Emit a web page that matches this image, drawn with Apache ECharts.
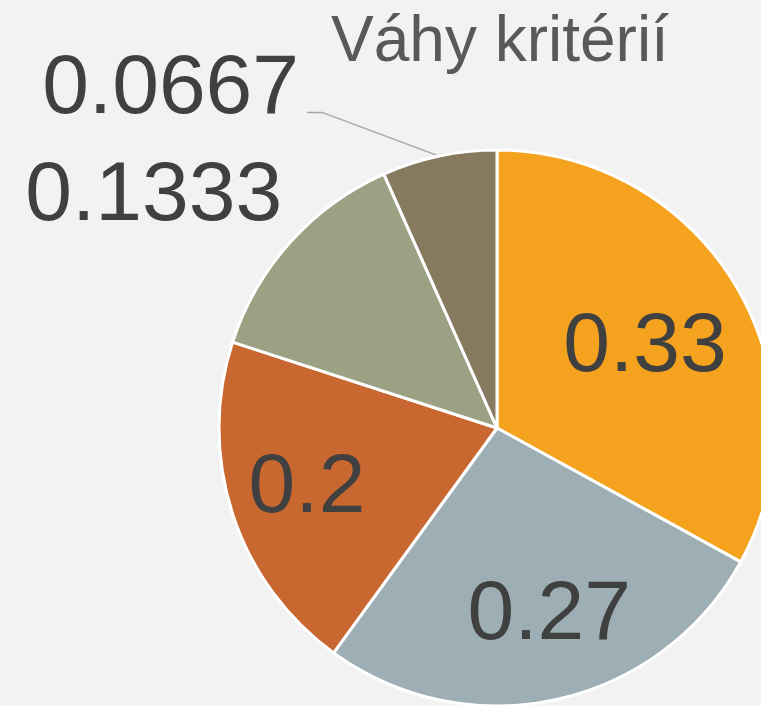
<!DOCTYPE html>
<html>
<head>
<meta charset="utf-8">
<script src="https://cdn.jsdelivr.net/npm/echarts@6/dist/echarts.min.js"></script>
<style>
  html, body { margin: 0; padding: 0; background: #f2f2f2; }
  #main { width: 761px; height: 706px; }
</style>
</head>
<body>
<div id="main"></div>
<script>
var titleText = "Váhy kritérií";
var categories = ["A", "B", "C", "D", "E"];
var weights = [0.33, 0.27, 0.2, 0.1333, 0.0667];
var colors = ["#f5a21e", "#9daeb4", "#c8672f", "#9ba283", "#877a5e"];

var dom = document.getElementById("main");
var myChart = echarts.init(dom);

var font = "'Liberation Sans', Arial, sans-serif";
var center = [497, 428];
var R = 278;

// main pie: visible slices, outside labels for the small ones
var mainData = [];
var overlayData = [];
for (var i = 0; i < weights.length; i++) {
  var inside = weights[i] >= 0.2;
  var item = {
    name: categories[i],
    value: weights[i],
    itemStyle: { color: colors[i] },
    label: { show: !inside },
    labelLine: { show: i == 4 }
  };
  // leader line of the smallest slice hooks under the text:
  // an empty second line makes the label box taller
  if (i == 4) item.label.formatter = "{v|{c}}\n{s|}";
  mainData.push(item);
  overlayData.push({
    name: categories[i],
    value: weights[i],
    label: { show: inside }
  });
}

// nudges for the labels (Excel-style placement)
var outsideShift = { 3: [23, -35], 4: [-109, -67] };
var insideShift = { 0: [-15, 16], 1: [11, 3], 2: [-10, 2] };

var option = {
  backgroundColor: "#f2f2f2",
  animation: false,
  title: {
    text: titleText,
    left: 326,
    top: 6,
    textStyle: { fontFamily: font, fontSize: 64, fontWeight: "normal", color: "#595959" }
  },
  series: [
    {
      type: "pie",
      center: center,
      radius: R,
      startAngle: 90,
      clockwise: true,
      avoidLabelOverlap: false,
      itemStyle: { borderColor: "#ffffff", borderWidth: 3 },
      label: {
        position: "outside",
        formatter: "{c}",
        fontFamily: font,
        fontSize: 84,
        color: "#404040",
        overflow: "none",
        rich: {
          v: { fontFamily: font, fontSize: 84, color: "#404040", padding: [0, 8, 0, 0] },
          s: { height: 8, width: 1 }
        }
      },
      labelLine: {
        length: 15,
        length2: 15,
        lineStyle: { color: "#a6a6a6", width: 1.5 }
      },
      labelLayout: function (p) {
        var s = outsideShift[p.dataIndex];
        if (!s) return {};
        var r = p.labelRect;
        return {
          x: r.x + r.width + s[0],
          y: r.y + r.height / 2 + s[1]
        };
      },
      emphasis: { disabled: true },
      data: mainData
    },
    {
      type: "pie",
      center: center,
      radius: [R * 0.34, R],
      startAngle: 90,
      clockwise: true,
      silent: true,
      itemStyle: { color: "rgba(0,0,0,0)", borderWidth: 0 },
      label: {
        position: "inside",
        formatter: "{c}",
        fontFamily: font,
        fontSize: 84,
        color: "#404040"
      },
      labelLine: { show: false },
      labelLayout: function (p) {
        var s = insideShift[p.dataIndex];
        return s ? { dx: s[0], dy: s[1] } : {};
      },
      emphasis: { disabled: true },
      data: overlayData
    }
  ]
};

myChart.setOption(option);
</script>
</body>
</html>
